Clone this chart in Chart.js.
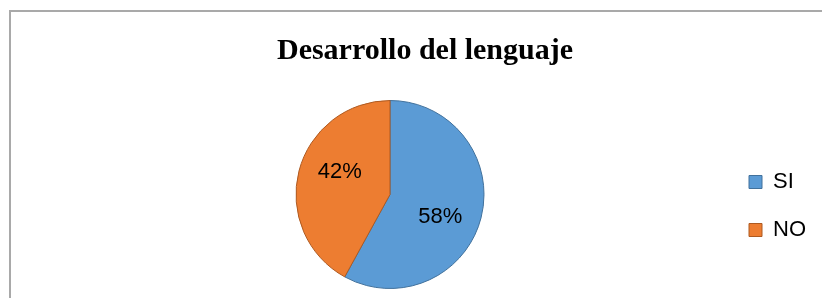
<!DOCTYPE html>
<html><head><meta charset="utf-8">
<script src="https://cdn.jsdelivr.net/npm/chart.js@4/dist/chart.umd.min.js"></script>
<style>
html,body{margin:0;padding:0;background:#fff;overflow:hidden}
#frame{position:absolute;left:9px;top:10px;width:900px;height:400px;border-top:2px solid #a9a9a9;border-left:2px solid #a9a9a9;box-sizing:border-box}
#c{position:absolute;left:0;top:0}
</style></head><body>
<div id="frame"></div>
<canvas id="c" width="822" height="298"></canvas>
<script>
const categories = ['SI', 'NO'];
const values = [58, 42];
const titleText = 'Desarrollo del lenguaje';
const fillColors = ['#5B9BD5', '#ED7D31'];
const edgeColors = ['#41719C', '#AE5A21'];

const pctLabels = {
  id: 'pctLabels',
  afterDatasetsDraw(chart) {
    const ctx = chart.ctx;
    const meta = chart.getDatasetMeta(0);
    const data = chart.data.datasets[0].data;
    const total = data.reduce((a, b) => a + b, 0);
    ctx.save();
    ctx.font = '22px "Liberation Sans"';
    ctx.fillStyle = '#000';
    ctx.textAlign = 'center';
    ctx.textBaseline = 'middle';
    meta.data.forEach((arc, i) => {
      const p = arc.getProps(['x', 'y', 'startAngle', 'endAngle', 'outerRadius'], true);
      const mid = (p.startAngle + p.endAngle) / 2 + 10 * Math.PI / 180;
      const r = p.outerRadius * 0.587;
      ctx.fillText(Math.round(data[i] / total * 100) + '%', p.x + Math.cos(mid) * r, p.y + Math.sin(mid) * r);
    });
    ctx.restore();
  }
};

// centre the chart title over the whole frame rather than over the plot + legend strip
const titleNudge = {
  id: 'titleNudge',
  afterLayout(chart) {
    const t = chart.titleBlock;
    if (t) { t.left -= 11.5; t.right -= 11.5; }
  }
};

new Chart(document.getElementById('c'), {
  type: 'pie',
  data: {
    labels: categories,
    datasets: [{
      data: values,
      backgroundColor: fillColors,
      borderColor: edgeColors,
      borderWidth: 1
    }]
  },
  options: {
    responsive: false,
    animation: false,
    layout: { padding: { left: 57, right: 6, top: 0, bottom: 9 } },
    plugins: {
      tooltip: { enabled: false },
      title: {
        display: true,
        text: titleText,
        color: '#000',
        font: { family: '"Liberation Serif", "Times New Roman", serif', size: 30, weight: 'bold', lineHeight: 1 },
        padding: { top: 36, bottom: 34 }
      },
      legend: {
        position: 'right',
        fullSize: false,
        title: { display: true, text: '', font: { size: 10, lineHeight: 1 }, padding: { top: 6.5, bottom: 6.5 } },
        labels: {
          color: '#000',
          font: { family: '"Liberation Sans", Arial, sans-serif', size: 22 },
          boxWidth: 13,
          boxHeight: 13,
          padding: 26
        }
      }
    }
  },
  plugins: [pctLabels, titleNudge]
});
</script>
</body></html>
